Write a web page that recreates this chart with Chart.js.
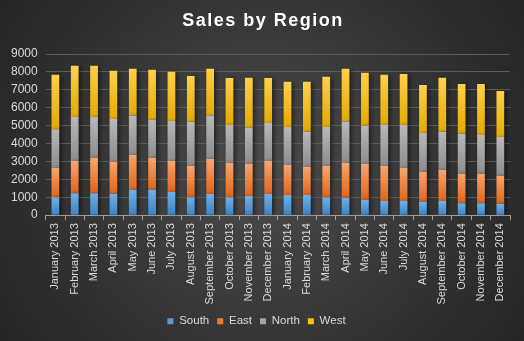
<!DOCTYPE html>
<html><head><meta charset="utf-8">
<script src="https://cdn.jsdelivr.net/npm/chart.js@4/dist/chart.umd.min.js"></script>
<style>html,body{margin:0;padding:0;background:#333;}#wrap{width:524px;height:341px;}</style>
</head><body><div id="wrap"><canvas id="c" width="524" height="341"></canvas></div>
<script>
const categories = ["January 2013","February 2013","March 2013","April 2013","May 2013","June 2013","July 2013","August 2013","September 2013","October 2013","November 2013","December 2013","January 2014","February 2014","March 2014","April 2014","May 2014","June 2014","July 2014","August 2014","September 2014","October 2014","November 2014","December 2014"];
const south = [1000,1230,1230,1195,1420,1420,1305,1005,1175,1005,1065,1175,1120,1120,1005,970,860,785,785,745,785,670,670,635];
const east  = [1630,1790,1980,1790,1940,1790,1715,1735,1960,1905,1790,1845,1680,1570,1735,1940,2000,1960,1845,1680,1750,1640,1640,1565];
const north = [2165,2465,2275,2390,2200,2125,2240,2480,2425,2125,2035,2125,2125,1975,2185,2315,2145,2295,2405,2165,2130,2240,2165,2165];
const west  = [3040,2855,2855,2685,2610,2780,2745,2555,2610,2630,2780,2520,2520,2780,2800,2950,2950,2800,2855,2685,3005,2780,2855,2575];
const seriesNames = ["South","East","North","West"];
const yTicks = [0,1000,2000,3000,4000,5000,6000,7000,8000,9000];
const titleText = 'Sales by Region';

const palette = [
  {top:'#6fb0e6', bot:'#3b82c6', solid:'#5b9bd5'},
  {top:'#f7a56e', bot:'#e0641a', solid:'#ed7d31'},
  {top:'#b8b8b8', bot:'#8c8c8c', solid:'#a5a5a5'},
  {top:'#ffd04a', bot:'#e3aa00', solid:'#ffc000'}
];
const allSeries = [south, east, north, west];

function segGradient(ctx, dsIndex) {
  const chart = ctx.chart;
  const p = palette[dsIndex];
  const y = chart.scales && chart.scales.y;
  if (ctx.type !== 'data' || !y || !chart.chartArea) return p.solid;
  const i = ctx.dataIndex;
  let base = 0;
  for (let k = 0; k < dsIndex; k++) base += allSeries[k][i];
  const top = base + allSeries[dsIndex][i];
  const yTop = y.getPixelForValue(top), yBot = y.getPixelForValue(base);
  if (!isFinite(yTop) || !isFinite(yBot) || yTop === yBot) return p.solid;
  const g = chart.ctx.createLinearGradient(0, yTop, 0, yBot);
  g.addColorStop(0, p.top);
  g.addColorStop(1, p.bot);
  return g;
}

const bgPlugin = {
  id: 'bg',
  beforeDraw(chart) {
    const c = chart.ctx, w = chart.width, h = chart.height;
    c.save();
    const g = c.createRadialGradient(w/2, h/2, 10, w/2, h/2, 320);
    g.addColorStop(0, '#4a4a4a');
    g.addColorStop(1, '#232323');
    c.fillStyle = g;
    c.fillRect(0, 0, w, h);
    c.restore();
  },
  beforeDatasetsDraw(chart) {
    const c = chart.ctx;
    c.save();
    c.shadowColor = 'rgba(0,0,0,0.55)';
    c.shadowBlur = 4;
    c.shadowOffsetX = 2;
    c.shadowOffsetY = 1;
  },
  afterDatasetsDraw(chart) {
    chart.ctx.restore();
  },
  afterDraw(chart) {
    const c = chart.ctx;
    c.save();
    c.letterSpacing = '1.5px';
    c.font = 'bold 18px "Liberation Sans"';
    c.fillStyle = '#ffffff';
    c.textAlign = 'center';
    c.textBaseline = 'middle';
    c.fillText(titleText, chart.width / 2 + 1, 21);
    c.restore();
  }
};

new Chart(document.getElementById('c'), {
  type: 'bar',
  data: {
    labels: categories,
    datasets: allSeries.map((d, idx) => ({
      label: seriesNames[idx],
      data: d,
      backgroundColor: (ctx) => segGradient(ctx, idx),
      borderWidth: 0,
      barPercentage: 0.4,
      categoryPercentage: 1.0
    }))
  },
  options: {
    responsive: false,
    animation: false,
    devicePixelRatio: 1,
    layout: { padding: { left: 3, right: 14, top: 54, bottom: 4 } },
    plugins: {
      title: { display: false },
      legend: {
        position: 'bottom',
        labels: {
          color: '#d9d9d9',
          font: { family: 'Liberation Sans', size: 11.5 },
          boxWidth: 6, boxHeight: 6,
          padding: 8,
          generateLabels(chart) {
            return chart.data.datasets.map((ds, i) => ({
              text: ds.label, fillStyle: palette[i].solid, strokeStyle: palette[i].solid,
              lineWidth: 0, fontColor: '#d9d9d9', datasetIndex: i, hidden: false
            }));
          }
        }
      },
      tooltip: { enabled: false }
    },
    scales: {
      x: {
        stacked: true,
        grid: { display: true, drawOnChartArea: false, drawTicks: true, tickLength: 5, color: '#a0a0a0', offset: true },
        border: { display: true, color: '#a0a0a0' },
        ticks: {
          color: '#d9d9d9', font: { family: 'Liberation Sans', size: 11 },
          maxRotation: 90, minRotation: 90, autoSkip: false, padding: 3
        }
      },
      y: {
        stacked: true,
        min: 0, max: 9000,
        afterBuildTicks(scale) { scale.ticks = yTicks.map(v => ({ value: v })); },
        grid: { color: '#5c5c5c', drawTicks: false },
        border: { display: false },
        ticks: { color: '#d9d9d9', font: { family: 'Liberation Sans', size: 12 }, padding: 8,
                 callback: (v) => String(v) }
      }
    }
  },
  plugins: [bgPlugin]
});
</script>
</body></html>
